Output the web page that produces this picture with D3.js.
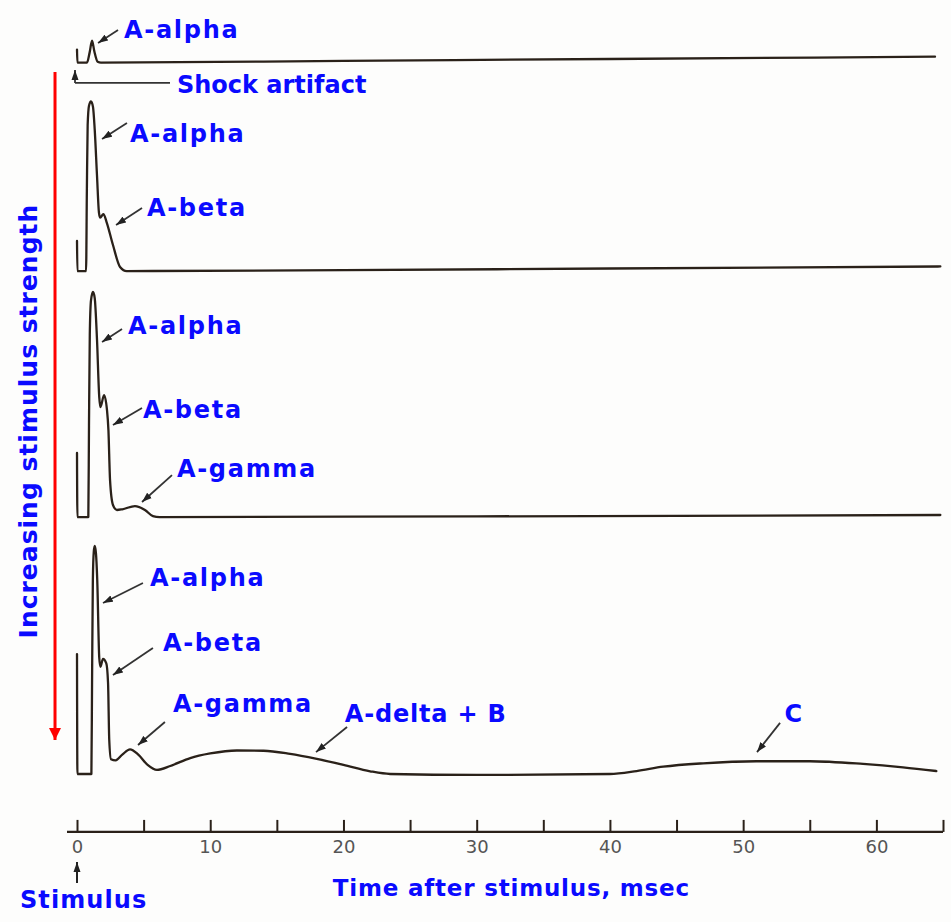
<!DOCTYPE html>
<html><head><meta charset="utf-8">
<script src="https://cdn.jsdelivr.net/npm/d3@7"></script>
<style>
html,body{margin:0;padding:0;background:#fdfdfc;}
svg{display:block;}
text{font-family:"DejaVu Sans",Verdana,sans-serif;}
</style></head>
<body>
<script>
// ---------- DATA ----------
// time (ms) and amplitude (relative units, peak of strongest response = 100)
const trace1 = [[0,5.7],[0.03,0],[0.75,0],[0.95,4.5],[1.13,9.6],[1.3,5],[1.55,0.4],[1.8,0],[20,0.8],[40,1.6],[64.4,2.6]];
const trace2 = [[0,13.2],[0.03,0],[0.68,0],[0.74,35],[0.8,64],[0.9,72.5],[1.05,74.4],[1.2,72],[1.33,62],[1.5,42],[1.65,25.5],[1.74,23.4],[1.98,25],[2.22,21.5],[2.7,11.4],[3.23,1.8],[3.73,0],[20,0.4],[40,1.1],[64.8,2]];
const trace3 = [[0,28.1],[0.03,0],[0.85,0],[0.9,40],[0.96,80],[1.05,95],[1.2,98.7],[1.33,96],[1.5,78],[1.67,52.6],[1.76,48.2],[2.03,53.5],[2.25,47],[2.36,38],[2.48,16.2],[2.7,5.3],[3.0,3.1],[3.4,3.4],[4.35,4.8],[5.1,3.1],[5.7,0.4],[6.2,0],[30,0.3],[64.8,0.9]];
const trace4 = [[0,52.6],[0.03,0],[1.08,0],[1.13,40],[1.19,85],[1.26,97.5],[1.33,100],[1.42,97],[1.52,85],[1.67,51],[1.76,47],[1.95,50.5],[2.2,48.5],[2.33,40],[2.42,15],[2.55,6.5],[2.9,6],[3.4,8.5],[3.98,10.8],[4.6,8.5],[5.3,4],[6.0,1.8],[7.0,3.5],[8.5,7],[10,9],[12,10.3],[14,10.2],[16,8.8],[18,6.6],[20,4],[22,1.2],[23.5,0],[30,-0.4],[40,0],[42,1.3],[44,3.2],[47,4.7],[51,5.6],[55,5.6],[59,4.4],[62,2.9],[64.5,1.3]];
const traces = [trace1, trace2, trace3, trace4];
// vertical display offset of each trace (same amplitude units)
const traceOffsets = [312, 220.6, 112.7, 0];

const xTicks = d3.range(0, 66, 5);
const xTickLabels = [0, 10, 20, 30, 40, 50, 60];

// annotation labels: text, label anchor (t, Y), arrow start (t, Y), arrow tip (t, Y)
const labelTexts = ["A-alpha","A-alpha","A-beta","A-alpha","A-beta","A-gamma","A-alpha","A-beta","A-gamma","A-delta + B","C"];
const labelPos   = [[3.53,322.8],[3.98,277.2],[5.25,244.7],[3.83,193],[4.95,156.1],[7.5,130.3],[5.48,82.5],[6.45,53.9],[7.2,27.2],[20.1,22.8],[53.1,22.8]];
const arrowFrom  = [[3.08,326.3],[3.75,285.5],[4.88,248.2],[3.38,195.2],[4.88,160.5],[7.13,131.1],[4.95,83.8],[5.7,55.3],[6.6,22.8],[20.27,20.6],[52.77,22.4]];
const arrowTip   = [[1.58,320.6],[1.88,278.5],[2.93,240.8],[1.88,189.5],[2.7,153.1],[4.88,119.3],[1.95,75],[2.7,43.4],[4.58,12.7],[17.94,9.6],[51.04,9.6]];

// ---------- CHART ----------
const W = 951, H = 922;
const svg = d3.select("body").append("svg").attr("width", W).attr("height", H);

const x = d3.scaleLinear().domain([0, 65]).range([77, 943]);
const y = d3.scaleLinear().domain([0, 100]).range([774, 546]);

const defs = svg.append("defs");
defs.append("marker").attr("id","ah").attr("markerUnits","userSpaceOnUse")
  .attr("markerWidth",11).attr("markerHeight",8).attr("refX",10).attr("refY",4).attr("orient","auto")
  .append("path").attr("d","M0,0.5 L10,4 L0,7.5 Z").attr("fill","#222");
defs.append("marker").attr("id","ahr").attr("markerUnits","userSpaceOnUse")
  .attr("markerWidth",14).attr("markerHeight",14).attr("refX",12).attr("refY",6).attr("orient","auto")
  .append("path").attr("d","M0,0 L12,6 L0,12 Z").attr("fill","#ff0000");

const ink = "#2a2119";

// traces
traces.forEach((tr, i) => {
  const off = traceOffsets[i];
  const line = d3.line().x(d => x(d[0])).y(d => y(d[1] + off)).curve(d3.curveMonotoneX);
  svg.append("path").attr("d", line(tr)).attr("fill","none")
    .attr("stroke", ink).attr("stroke-width", 2.3).attr("stroke-linejoin","round").attr("stroke-linecap","round");
});

// axis
const axisY = y(-25.4);
const axis = d3.axisBottom(x).tickValues(xTicks).tickSizeInner(-12).tickSizeOuter(0).tickPadding(8)
  .tickFormat(d => xTickLabels.includes(d) ? d : "");
const gAx = svg.append("g").attr("transform", `translate(0,${axisY})`).call(axis);
gAx.select(".domain").remove();
gAx.selectAll(".tick line").attr("stroke", ink).attr("stroke-width", 2);
gAx.selectAll(".tick text").attr("fill","#555").style("font-size","18px").style("font-family","'DejaVu Sans',sans-serif");
svg.append("line").attr("x1", x(-0.75)).attr("x2", x(65)).attr("y1", axisY).attr("y2", axisY)
  .attr("stroke", ink).attr("stroke-width", 2.3);

// annotation arrows
const blue = "#0a0aff";
labelTexts.forEach((t, i) => {
  svg.append("line").attr("x1", x(arrowFrom[i][0])).attr("y1", y(arrowFrom[i][1]))
    .attr("x2", x(arrowTip[i][0])).attr("y2", y(arrowTip[i][1]))
    .attr("stroke","#333").attr("stroke-width",1.8).attr("marker-end","url(#ah)");
  svg.append("text").attr("x", x(labelPos[i][0])).attr("y", y(labelPos[i][1]))
    .attr("fill", blue).attr("font-weight","bold").style("font-size","24px")
    .style("letter-spacing", t.startsWith("A-delta") ? "0.8px" : (t === "C" ? "0px" : "1.7px"))
    .text(t);
});

// shock artifact marker
svg.append("path").attr("d", d3.line()([[x(6.98), y(303.1)], [x(-0.15), y(303.1)]])).attr("stroke","#333").attr("stroke-width",1.8).attr("fill","none");
svg.append("line").attr("x1", x(-0.15)).attr("y1", y(303.1)).attr("x2", x(-0.15)).attr("y2", y(308.8))
  .attr("stroke","#333").attr("stroke-width",1.8).attr("marker-end","url(#ah)");
svg.append("text").attr("x", x(7.5)).attr("y", y(298.7)).attr("fill", blue).attr("font-weight","bold")
  .style("font-size","24px").text("Shock artifact");

// stimulus arrow + label
svg.append("line").attr("x1", x(0)).attr("y1", y(-47.8)).attr("x2", x(0)).attr("y2", y(-38.6))
  .attr("stroke","#222").attr("stroke-width",2).attr("marker-end","url(#ah)");
svg.append("text").attr("x", x(-4.28)).attr("y", y(-58.8)).attr("fill", blue).attr("font-weight","bold")
  .style("font-size","24px").style("letter-spacing","1.1px").text("Stimulus");
svg.append("text").attr("x", x(19.2)).attr("y", y(-53.5)).attr("fill", blue).attr("font-weight","bold")
  .style("font-size","23px").style("letter-spacing","0.8px").text("Time after stimulus, msec");

// red arrow + vertical label
svg.append("line").attr("x1", x(-1.65)).attr("y1", y(307.9)).attr("x2", x(-1.65)).attr("y2", y(14.9))
  .attr("stroke","#ff0000").attr("stroke-width",3).attr("marker-end","url(#ahr)");
svg.append("text").attr("transform", `translate(${x(-3.68) + 9},${y(154.8)}) rotate(-90)`)
  .attr("text-anchor","middle").attr("fill", blue).attr("font-weight","bold")
  .style("font-size","25px").style("letter-spacing","1px").text("Increasing stimulus strength");
</script>
</body></html>
